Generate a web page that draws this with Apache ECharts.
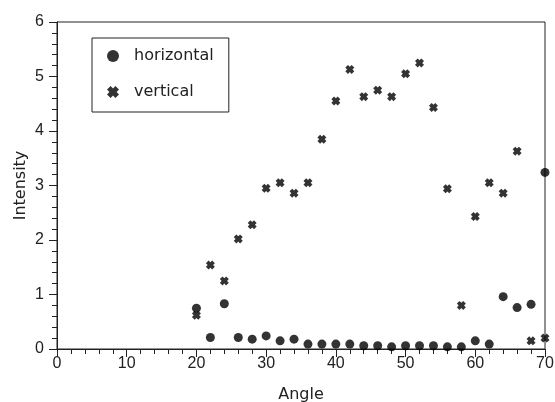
<!DOCTYPE html>
<html>
<head>
<meta charset="utf-8">
<script src="https://cdn.jsdelivr.net/npm/echarts@6/dist/echarts.min.js"></script>
<style>
  html, body { margin: 0; padding: 0; background: #fff; }
  #main { width: 555px; height: 402px; }
</style>
</head>
<body>
<div id="main"></div>
<script>
// angle of each measurement
var angles = [20, 22, 24, 26, 28, 30, 32, 34, 36, 38, 40, 42, 44, 46, 48, 50, 52, 54, 56, 58, 60, 62, 64, 66, 68, 70];
var horizontal = [0.75, 0.21, 0.83, 0.21, 0.18, 0.24, 0.15, 0.18, 0.09, 0.09, 0.09, 0.09, 0.06, 0.06, 0.04, 0.06, 0.06, 0.06, 0.04, 0.04, 0.15, 0.09, 0.96, 0.76, 0.82, 3.24];
var vertical = [0.62, 1.54, 1.25, 2.02, 2.28, 2.95, 3.05, 2.86, 3.05, 3.85, 4.55, 5.13, 4.63, 4.75, 4.63, 5.05, 5.25, 4.43, 2.94, 0.80, 2.43, 3.05, 2.86, 3.63, 0.15, 0.20];
var xTicks = [0, 10, 20, 30, 40, 50, 60, 70];

var numFont = 'Liberation Sans, Arial, sans-serif';
var textFont = 'DejaVu Sans, sans-serif';
var crossPath = 'path://M0,3 L3,0 L5,2 L7,0 L10,3 L8,5 L10,7 L7,10 L5,8 L3,10 L0,7 L2,5 Z';

function pairs(ys) {
  return angles.map(function (a, i) { return [a, ys[i]]; });
}

var myChart = echarts.init(document.getElementById('main'));
var option = {
  animation: false,
  backgroundColor: '#fff',
  textStyle: { fontFamily: numFont },
  grid: {
    left: 57, right: 10, top: 22, bottom: 53,
    containLabel: false, outerBoundsMode: 'none',
    show: true, borderColor: '#222', borderWidth: 1
  },
  legend: {
    left: 92, top: 38,
    orient: 'vertical',
    padding: [10, 15, 12, 15],
    borderColor: '#222', borderWidth: 1,
    itemWidth: 12, itemHeight: 12, itemGap: 20,
    textStyle: { fontSize: 16, color: '#222', fontFamily: textFont, padding: [0, 0, 0, 10] },
    data: ['horizontal', 'vertical']
  },
  xAxis: {
    type: 'value', min: 0, max: 70, interval: 10,
    name: 'Angle', nameLocation: 'middle', nameGap: 38,
    nameTextStyle: { fontSize: 16, color: '#222', fontFamily: textFont },
    axisLine: { lineStyle: { color: '#222', width: 1 } },
    axisTick: { length: 8, lineStyle: { color: '#222' } },
    minorTick: { show: true, splitNumber: 5, length: 5, lineStyle: { color: '#222' } },
    axisLabel: {
      fontSize: 16, color: '#222', margin: 7,
      formatter: function (v) { return xTicks.indexOf(v) >= 0 ? String(v) : ''; }
    },
    splitLine: { show: false }
  },
  yAxis: {
    type: 'value', min: 0, max: 6, interval: 1,
    name: 'Intensity', nameLocation: 'middle', nameGap: 28, nameMoveOverlap: false,
    nameTextStyle: { fontSize: 16, color: '#222', fontFamily: textFont },
    axisLine: { show: true, lineStyle: { color: '#222', width: 1 } },
    axisTick: { show: true, length: 8, lineStyle: { color: '#222' } },
    minorTick: { show: true, splitNumber: 5, length: 5, lineStyle: { color: '#222' } },
    axisLabel: { fontSize: 16, color: '#222', margin: 13 },
    splitLine: { show: false }
  },
  series: [
    {
      name: 'horizontal', type: 'scatter', clip: false,
      symbol: 'circle', symbolSize: 9,
      itemStyle: { color: '#000' },
      data: pairs(horizontal)
    },
    {
      name: 'vertical', type: 'scatter', clip: false,
      symbol: crossPath, symbolSize: 9,
      itemStyle: { color: '#000' },
      data: pairs(vertical)
    }
  ]
};
myChart.setOption(option);
</script>
</body>
</html>
